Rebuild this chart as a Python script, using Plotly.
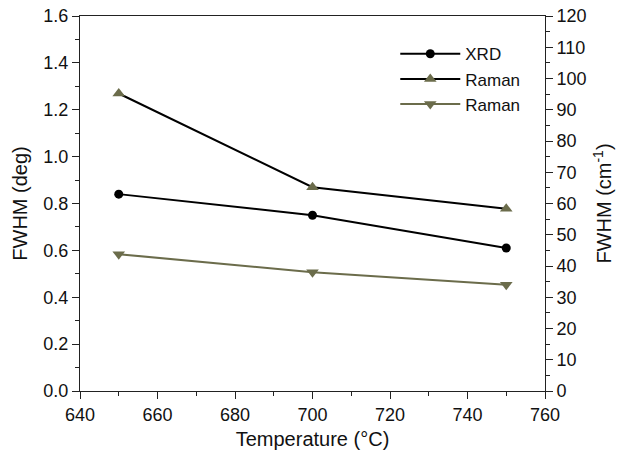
import plotly.graph_objects as go

temps = [650, 700, 750]
xrd_fwhm = [0.84, 0.75, 0.61]
raman1_fwhm = [95.2, 65.2, 58.3]
raman2_fwhm = [43.8, 38.0, 34.0]

olive = "#6b6c4b"
FAM = "Liberation Sans, Arial, sans-serif"
tick_font = dict(family=FAM, size=18, color="#111")
title_font = dict(family=FAM, size=20, color="#111")

fig = go.Figure()
fig.add_trace(go.Scatter(x=temps, y=xrd_fwhm, name="XRD", mode="lines+markers",
                         line=dict(color="black", width=2),
                         marker=dict(symbol="circle", size=9, color="black")))
fig.add_trace(go.Scatter(x=temps, y=raman1_fwhm, name="Raman", mode="lines+markers", yaxis="y2",
                         line=dict(color="black", width=2),
                         marker=dict(symbol="triangle-up", size=11, color=olive)))
fig.add_trace(go.Scatter(x=temps, y=raman2_fwhm, name="Raman", mode="lines+markers", yaxis="y2",
                         line=dict(color=olive, width=2),
                         marker=dict(symbol="triangle-down", size=11, color=olive)))

axis_common = dict(showgrid=False, zeroline=False, ticks="outside", ticklen=7, tickwidth=1,
                   tickcolor="#222", linecolor="#222", linewidth=1, showline=True,
                   tickfont=tick_font, automargin=False)

fig.update_layout(
    width=631, height=457,
    margin=dict(l=80, r=86, t=16, b=66),
    paper_bgcolor="white", plot_bgcolor="white",
    font=tick_font,
    showlegend=True,
    legend=dict(x=0.678, y=0.946, xanchor="left", yanchor="top", bgcolor="rgba(0,0,0,0)",
                font=dict(family=FAM, size=17, color="#111"),
                tracegroupgap=0, itemwidth=60),
    xaxis=dict(range=[640, 760], dtick=20, mirror=True,
               minor=dict(dtick=10, ticks="outside", ticklen=4, tickcolor="#222"),
               title=dict(text="Temperature (°C)", font=title_font, standoff=8),
               **axis_common),
    yaxis=dict(range=[0, 1.6], dtick=0.2, tickformat=".1f",
               minor=dict(dtick=0.1, ticks="outside", ticklen=4, tickcolor="#222"),
               title=dict(text="FWHM (deg)", font=title_font, standoff=10),
               **axis_common),
    yaxis2=dict(range=[0, 120], dtick=10, overlaying="y", side="right",
                minor=dict(dtick=5, ticks="outside", ticklen=4, tickcolor="#222"),
                title=dict(text="FWHM (cm<sup>-1</sup>)", font=title_font, standoff=11),
                **axis_common),
)

fig.write_html("out.html", config={"displayModeBar": False},
               post_script="document.body.style.margin='0px';document.body.style.overflow='hidden';")
